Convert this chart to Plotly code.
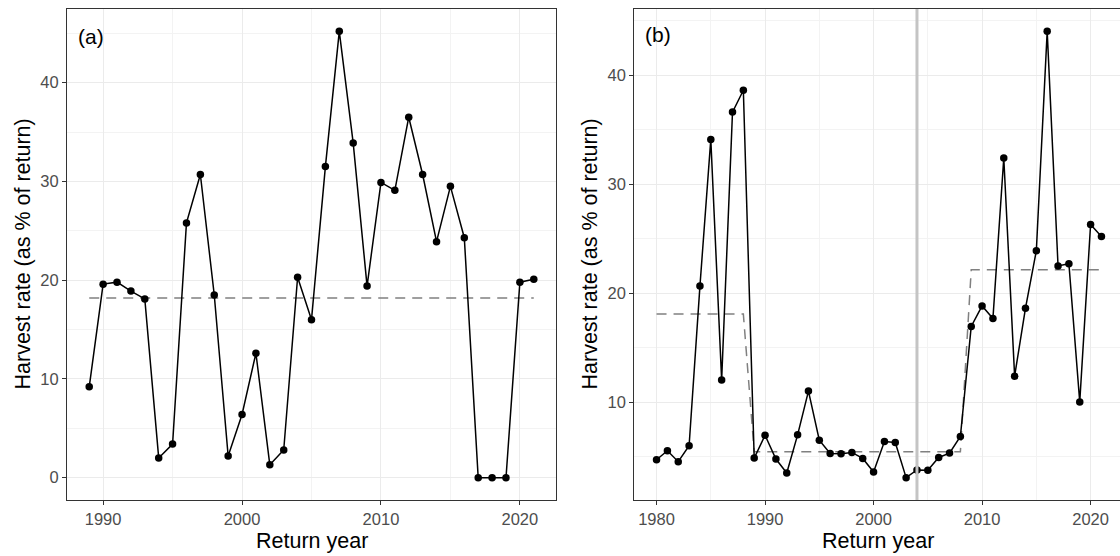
import plotly.graph_objects as go

# ---------------- data ----------------
years_a = list(range(1989, 2022))
rate_a = [9.2, 19.6, 19.8, 18.9, 18.1, 2.0, 3.4, 25.8, 30.7, 18.5,
          2.2, 6.4, 12.6, 1.3, 2.8, 20.3, 16.0, 31.5, 45.2, 33.9,
          19.4, 29.9, 29.1, 36.5, 30.7, 23.9, 29.5, 24.3, 0.0, 0.0,
          0.0, 19.8, 20.1]
mean_a = 18.2

years_b = list(range(1980, 2022))
rate_b = [4.74, 5.56, 4.56, 6.02, 20.67, 34.1, 12.04, 36.6, 38.6,
          4.89, 6.99, 4.80, 3.53, 7.02, 11.03, 6.53, 5.32, 5.29, 5.41, 4.86,
          3.62, 6.41, 6.32, 3.10, 3.80, 3.77, 4.95, 5.35, 6.87,
          16.96, 18.84, 17.69, 32.4, 12.4, 18.63, 23.9, 44.0, 22.5, 22.7,
          10.03, 26.3, 25.2]
regime_start = [1980, 1989, 2009]
regime_end = [1988, 2008, 2021]
regime_mean = [18.09, 5.47, 22.15]
break_year = 2004

xticks_a = [1990, 2000, 2010, 2020]
xticks_b = [1980, 1990, 2000, 2010, 2020]
yticks_a = [0, 10, 20, 30, 40]
yticks_b = [10, 20, 30, 40]
ytitle = "Harvest rate (as % of return)"
xtitle = "Return year"

# fitted regime value for every year of panel b
fit_b = []
for yr in years_b:
    for s, e, m in zip(regime_start, regime_end, regime_mean):
        if s <= yr <= e:
            fit_b.append(m)

# ---------------- figure ----------------
W, H = 1120, 556
TOP, BOT = 9, 500
def px(x):
    return x / W
def py(y):
    return (BOT - y) / (BOT - TOP)

fig = go.Figure()

dash_style = dict(color="#808080", width=1.5, dash="10px,7px")

fig.add_trace(go.Scatter(x=[years_a[0], years_a[-1]], y=[mean_a, mean_a],
                         mode="lines", line=dash_style, xaxis="x", yaxis="y",
                         showlegend=False, hoverinfo="skip"))
fig.add_trace(go.Scatter(x=years_a, y=rate_a, mode="lines+markers",
                         line=dict(color="black", width=1.5),
                         marker=dict(color="black", size=7.5),
                         xaxis="x", yaxis="y", showlegend=False))

fig.add_trace(go.Scatter(x=years_b, y=fit_b, mode="lines", line=dash_style,
                         xaxis="x2", yaxis="y2", showlegend=False, hoverinfo="skip"))
fig.add_trace(go.Scatter(x=years_b, y=rate_b, mode="lines+markers",
                         line=dict(color="black", width=1.5),
                         marker=dict(color="black", size=7.5),
                         xaxis="x2", yaxis="y2", showlegend=False))

fig.add_shape(type="line", xref="x2", yref="y2 domain", x0=break_year, x1=break_year,
              y0=0, y1=1, line=dict(color="#c4c4c4", width=3), layer="above")

grid = "#ebebeb"
minor_grid = "#f3f3f3"
axis_common = dict(showgrid=True, gridcolor=grid, gridwidth=1.1, zeroline=False,
                   showline=True, linecolor="#333333", linewidth=1.1,
                   ticks="outside", ticklen=4, tickcolor="#333333", tickwidth=1.1,
                   tickfont=dict(family="Liberation Sans, Arial", size=16.5, color="#4d4d4d"))

fig.update_layout(
    width=W, height=H,
    margin=dict(l=0, r=0, t=TOP, b=H - BOT),
    paper_bgcolor="white", plot_bgcolor="white",
    xaxis=dict(domain=[px(67), px(556)], range=[1987.4, 2022.6], tickvals=xticks_a,
               minor=dict(tickvals=[1985, 1995, 2005, 2015], showgrid=True,
                          gridcolor=minor_grid, gridwidth=1, ticks=""),
               mirror=True, anchor="y", **axis_common),
    yaxis=dict(domain=[0, 1], range=[-2.26, 47.46], tickvals=yticks_a,
               minor=dict(tickvals=[5, 15, 25, 35, 45], showgrid=True,
                          gridcolor=minor_grid, gridwidth=1, ticks=""),
               mirror=True, anchor="x", **axis_common),
    xaxis2=dict(domain=[px(634.3), 1], range=[1977.95, 2022.71], tickvals=xticks_b,
                minor=dict(tickvals=[1985, 1995, 2005, 2015], showgrid=True,
                           gridcolor=minor_grid, gridwidth=1, ticks=""),
                mirror=True, anchor="y2", **axis_common),
    yaxis2=dict(domain=[0, 1], range=[1.05, 46.05], tickvals=yticks_b,
                minor=dict(tickvals=[5, 15, 25, 35, 45], showgrid=True,
                           gridcolor=minor_grid, gridwidth=1, ticks=""),
                mirror=False, anchor="x2", **axis_common),
    font=dict(family="Liberation Sans, Arial", color="black"),
)

title_font = dict(family="Liberation Sans, Arial", size=21.5, color="black")
ann = [
    dict(text="(a)", x=px(76), y=py(36.5), xanchor="left", yanchor="middle",
         font=dict(family="Liberation Sans, Arial", size=21, color="black")),
    dict(text="(b)", x=px(643), y=py(35), xanchor="left", yanchor="middle",
         font=dict(family="Liberation Sans, Arial", size=21, color="black")),
    dict(text=xtitle, x=px(311.5), y=py(541), xanchor="center", yanchor="middle",
         font=title_font),
    dict(text=xtitle, x=px(878.4), y=py(541), xanchor="center", yanchor="middle",
         font=title_font),
    dict(text=ytitle, x=px(22), y=0.5, xanchor="center", yanchor="middle",
         textangle=-90, font=title_font),
    dict(text=ytitle, x=px(589), y=0.5, xanchor="center", yanchor="middle",
         textangle=-90, font=title_font),
]
for a in ann:
    a.update(xref="paper", yref="paper", showarrow=False)
fig.update_layout(annotations=ann)

fig.write_html("out.html", config={"displayModeBar": False},
               post_script="document.body.style.margin='0px';"
                           "document.body.style.overflow='hidden';")
